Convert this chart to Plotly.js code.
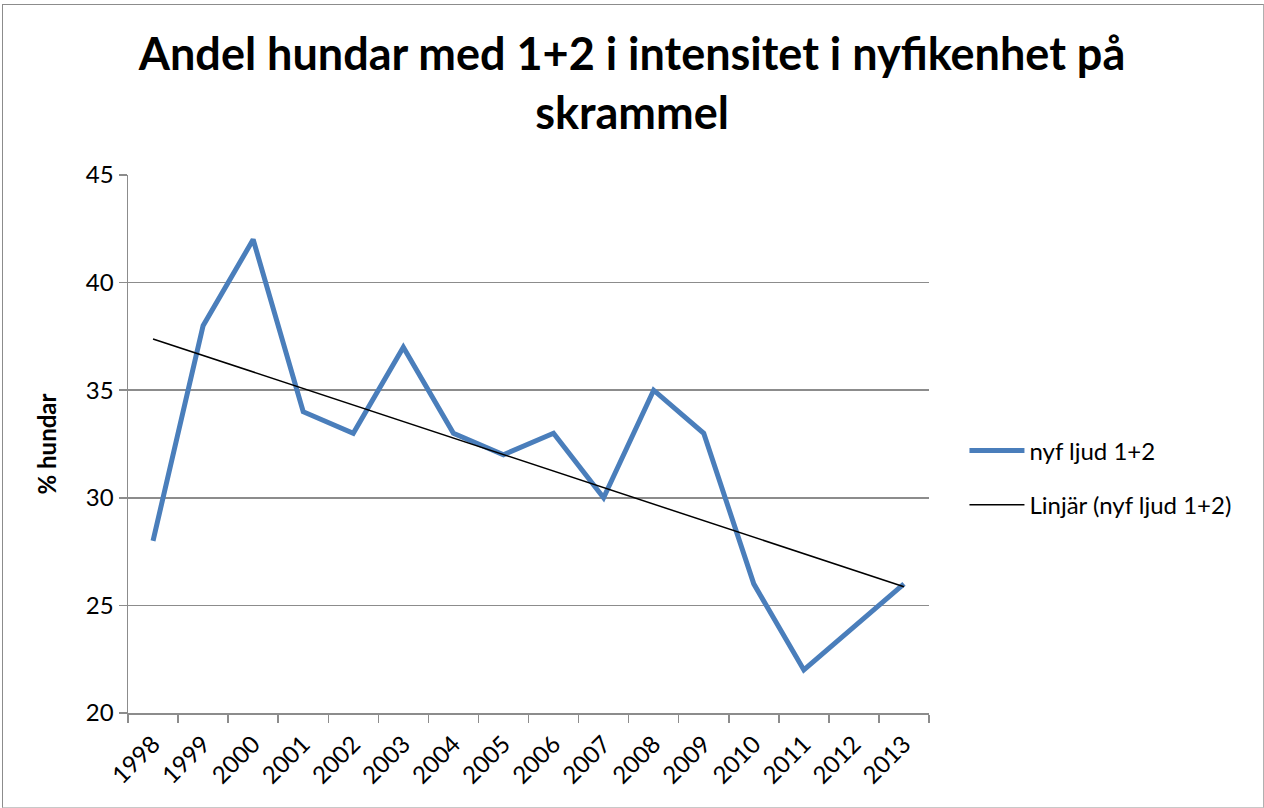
<!DOCTYPE html>
<html>
<head>
<meta charset="utf-8">
<script src="https://cdn.plot.ly/plotly-3.0.1.min.js"></script>
<style>
html,body{margin:0;padding:0;background:#fff;}
#chart{width:1264px;height:808px;position:absolute;left:0;top:0;}
#frame{position:absolute;left:2px;top:4px;width:1260px;height:802px;border:1px solid #8c8c8c;border-right-color:#b0b0b0;border-bottom-color:#c8c8c8;pointer-events:none;}
</style>
</head>
<body>
<div id="chart"></div>
<div id="frame"></div>
<script>
const years = ["1998","1999","2000","2001","2002","2003","2004","2005","2006","2007","2008","2009","2010","2011","2012","2013"];
const values = [28,38,42,34,33,37,33,32,33,30,35,33,26,22,24,26];
const seriesName = "nyf ljud 1+2";
const trendName = "Linjär (nyf ljud 1+2)";
const yTicks = [20,25,30,35,40,45];

// linear least-squares trend over category index
const n = values.length;
const idx = values.map((v,i)=>i);
const mx = idx.reduce((a,b)=>a+b,0)/n;
const my = values.reduce((a,b)=>a+b,0)/n;
let sxy=0, sxx=0;
for(let i=0;i<n;i++){sxy+=(idx[i]-mx)*(values[i]-my);sxx+=(idx[i]-mx)**2;}
const slope = sxy/sxx, intercept = my - slope*mx;
const trend = idx.map(i=>intercept+slope*i);

const font = "Lato, 'Open Sans', sans-serif";
const traces = [
  {x: years, y: values, type:'scatter', mode:'lines', name: seriesName,
   line:{color:'#4a7ebb', width:5}, legendgroup:'a'},
  {x: years, y: trend, type:'scatter', mode:'lines', name: trendName,
   line:{color:'#000000', width:1.5}, legendgroup:'b'}
];
const layout = {
  width:1264, height:808,
  margin:{l:127.5, r:334.5, t:175, b:94.5},
  paper_bgcolor:'#fff', plot_bgcolor:'#fff',
  font:{family:font, size:24, color:'#000'},
  title:{text:'<b>Andel hundar med 1+2 i intensitet i nyfikenhet på<br>skrammel</b>',
    font:{family:font, size:45, color:'#000'}, x:0.5, xref:'container', xanchor:'center',
    y:1-70/808, yref:'container', yanchor:'top'},
  xaxis:{type:'category', range:[-0.5,15.5], tickson:'boundaries', ticks:'outside', ticklen:8,
    tickcolor:'#8c8c8c', tickwidth:1.5, showline:true, linecolor:'#8c8c8c', linewidth:1.5,
    showgrid:false, tickangle:-45, ticklabelstandoff:6, tickfont:{family:font, size:24, color:'#000'}, fixedrange:true},
  yaxis:{range:[20,45], tickvals:yTicks, ticktext:yTicks.map(String), ticks:'outside', ticklen:8,
    tickcolor:'#8c8c8c', tickwidth:1.5, showline:true, linecolor:'#8c8c8c', linewidth:1.5,
    showgrid:true, gridcolor:'#8c8c8c', gridwidth:1.5, zeroline:false,
    tickfont:{family:font, size:24, color:'#000'},
    title:{text:'<b>% hundar</b>', font:{family:font, size:24, color:'#000'}, standoff:22}},
  showlegend:true,
  legend:{x:(965-127.5)/802, xanchor:'left', y:0.437, yanchor:'middle', tracegroupgap:20,
    itemwidth:55,
    font:{family:font, size:24, color:'#000'}, bgcolor:'rgba(0,0,0,0)'},
};
Plotly.newPlot('chart', traces, layout, {staticPlot:true});
</script>
</body>
</html>
